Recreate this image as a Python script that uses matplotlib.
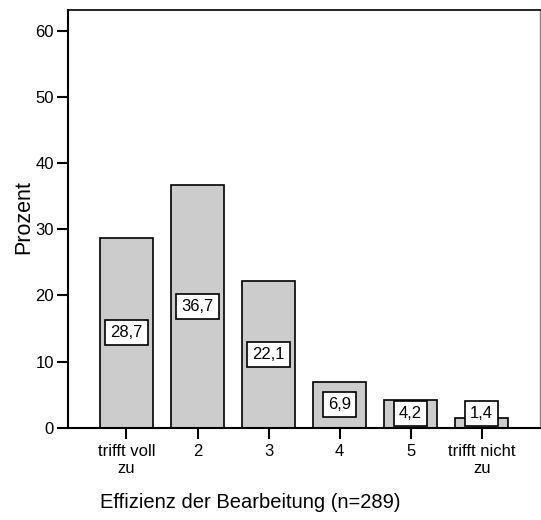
import matplotlib
matplotlib.use("Agg")
import matplotlib.pyplot as plt

categories = ["trifft voll\nzu", "2", "3", "4", "5", "trifft nicht\nzu"]
values = [28.7, 36.7, 22.1, 6.9, 4.2, 1.4]
value_labels = ["28,7", "36,7", "22,1", "6,9", "4,2", "1,4"]
yticks = [0, 10, 20, 30, 40, 50, 60]
xlabel = "Effizienz der Bearbeitung (n=289)"
ylabel = "Prozent"

plt.rcParams['font.family'] = ['Liberation Sans', 'DejaVu Sans']

fig = plt.figure(figsize=(5.41, 5.20), dpi=100)
ax = fig.add_axes([68 / 541, 1 - 427.7 / 520, (540 - 68) / 541, (427.7 - 10) / 520])

x = list(range(len(categories)))
ax.bar(x, values, width=0.75, color="#cccccc", edgecolor="black", linewidth=1.2, zorder=2)

for xi, v, lab in zip(x, values, value_labels):
    ypos = max(v / 2, 2.2)
    ax.text(xi, ypos, lab, ha="center", va="center", fontsize=12, zorder=4,
            bbox=dict(boxstyle="square,pad=0.3", facecolor="white", edgecolor="black", linewidth=1.2))

ax.set_xlim(-0.823, 5.82)
ax.set_ylim(0, 63.1)
ax.set_xticks(x)
ax.set_xticklabels(categories, fontsize=12, linespacing=1.15)
ax.set_yticks(yticks)
ax.set_yticklabels([str(t) for t in yticks], fontsize=12)
ax.tick_params(axis="both", direction="out", length=8, width=1.5, pad=2)
ax.tick_params(axis="x", pad=4)

for s in ["left", "bottom"]:
    ax.spines[s].set_linewidth(1.5)
    ax.spines[s].set_color("black")
ax.spines["top"].set_linewidth(1.2)
ax.spines["right"].set_linewidth(1.0)
ax.spines["right"].set_color("#888888")

fig.text(24 / 541, 1 - 217 / 520, ylabel, rotation=90, ha="center", va="center", fontsize=15.5)
fig.text(250 / 541, 1 - 502 / 520, xlabel, ha="center", va="center", fontsize=14.5)

fig.savefig("out.png", dpi=100)
